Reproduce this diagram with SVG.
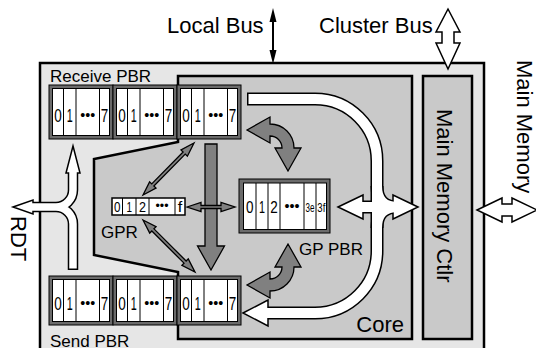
<svg xmlns="http://www.w3.org/2000/svg" width="536" height="348" viewBox="0 0 536 348">
<style>
text{font-family:"Liberation Sans",Arial,sans-serif;fill:#000}
.lbl{font-size:22px}
.sm{font-size:17px}
.dg{font-size:18px;text-anchor:middle}
.dg2{font-size:14px;text-anchor:middle}
.dg3{font-size:12px;text-anchor:middle}
.frame{fill:#6b6b6b;stroke:#000;stroke-width:1}
.cell{fill:#fff;stroke:#000;stroke-width:1}
.div{stroke:#000;stroke-width:1}
.gray{fill:#808080;stroke:#000;stroke-width:1.3;stroke-linejoin:miter}
.wb{fill:none;stroke:#000;stroke-width:13}
.ww{fill:none;stroke:#fff;stroke-width:10}
.rb{fill:none;stroke:#000;stroke-width:10.5}
.rw{fill:none;stroke:#fff;stroke-width:7.5}
.wh{fill:#fff;stroke:#000;stroke-width:1.5;stroke-linejoin:miter}
</style>

<g id="cluster">
<rect x="40" y="63" width="444" height="300" fill="#e6e6e6" stroke="#000" stroke-width="2.5"/>
</g>
<g id="core">
<polygon points="178,76 412,76 412,339 178,339 178,272 94,255 94,159 178,142" fill="#c9c9c9" stroke="#000" stroke-width="2.5"/>
<text class="lbl" x="404" y="332" text-anchor="end">Core</text>
</g>
<g id="memctl">
<rect x="423" y="76" width="49" height="263" fill="#c9c9c9" stroke="#000" stroke-width="2.5"/>
<text class="lbl" transform="translate(437,109) rotate(90)">Main Memory Ctlr</text>
</g>

<g id="recv-pbr">
<text class="sm" x="50" y="82">Receive PBR</text>
<g>
<rect class="frame" x="49" y="85" width="64" height="54"/>
<rect class="cell" x="52.5" y="88.5" width="57" height="47"/>
<path class="div" d="M63.5,88.5V135.5M76,88.5V135.5M99.5,88.5V135.5"/>
<text class="dg" x="58" y="122" textLength="7.5" lengthAdjust="spacingAndGlyphs">0</text>
<text class="dg" x="69.8" y="122" textLength="6" lengthAdjust="spacingAndGlyphs">1</text>
<text class="dg" x="87.8" y="120" style="font-size:14px" textLength="15" lengthAdjust="spacingAndGlyphs">•••</text>
<text class="dg" x="104.5" y="122" textLength="7.5" lengthAdjust="spacingAndGlyphs">7</text>
</g>
<g>
<rect class="frame" x="113" y="85" width="64" height="54"/>
<rect class="cell" x="116.5" y="88.5" width="57" height="47"/>
<path class="div" d="M127.5,88.5V135.5M140,88.5V135.5M163.5,88.5V135.5"/>
<text class="dg" x="122" y="122" textLength="7.5" lengthAdjust="spacingAndGlyphs">0</text>
<text class="dg" x="133.8" y="122" textLength="6" lengthAdjust="spacingAndGlyphs">1</text>
<text class="dg" x="151.8" y="120" style="font-size:14px" textLength="15" lengthAdjust="spacingAndGlyphs">•••</text>
<text class="dg" x="168.5" y="122" textLength="7.5" lengthAdjust="spacingAndGlyphs">7</text>
</g>
<g>
<rect class="frame" x="177" y="85" width="64" height="54"/>
<rect class="cell" x="180.5" y="88.5" width="57" height="47"/>
<path class="div" d="M191.5,88.5V135.5M204,88.5V135.5M227.5,88.5V135.5"/>
<text class="dg" x="186" y="122" textLength="7.5" lengthAdjust="spacingAndGlyphs">0</text>
<text class="dg" x="197.8" y="122" textLength="6" lengthAdjust="spacingAndGlyphs">1</text>
<text class="dg" x="215.8" y="120" style="font-size:14px" textLength="15" lengthAdjust="spacingAndGlyphs">•••</text>
<text class="dg" x="232.5" y="122" textLength="7.5" lengthAdjust="spacingAndGlyphs">7</text>
</g>
</g>

<g id="send-pbr">
<text class="sm" x="50" y="347">Send PBR</text>
<g>
<rect class="frame" x="49" y="276" width="64" height="49"/>
<rect class="cell" x="52.5" y="279.5" width="57" height="42"/>
<path class="div" d="M63.5,279.5V321.5M76,279.5V321.5M99.5,279.5V321.5"/>
<text class="dg" x="58" y="310" textLength="7.5" lengthAdjust="spacingAndGlyphs">0</text>
<text class="dg" x="69.8" y="310" textLength="6" lengthAdjust="spacingAndGlyphs">1</text>
<text class="dg" x="87.8" y="308" style="font-size:14px" textLength="15" lengthAdjust="spacingAndGlyphs">•••</text>
<text class="dg" x="104.5" y="310" textLength="7.5" lengthAdjust="spacingAndGlyphs">7</text>
</g>
<g>
<rect class="frame" x="113" y="276" width="64" height="49"/>
<rect class="cell" x="116.5" y="279.5" width="57" height="42"/>
<path class="div" d="M127.5,279.5V321.5M140,279.5V321.5M163.5,279.5V321.5"/>
<text class="dg" x="122" y="310" textLength="7.5" lengthAdjust="spacingAndGlyphs">0</text>
<text class="dg" x="133.8" y="310" textLength="6" lengthAdjust="spacingAndGlyphs">1</text>
<text class="dg" x="151.8" y="308" style="font-size:14px" textLength="15" lengthAdjust="spacingAndGlyphs">•••</text>
<text class="dg" x="168.5" y="310" textLength="7.5" lengthAdjust="spacingAndGlyphs">7</text>
</g>
<g>
<rect class="frame" x="177" y="276" width="64" height="49"/>
<rect class="cell" x="180.5" y="279.5" width="57" height="42"/>
<path class="div" d="M191.5,279.5V321.5M204,279.5V321.5M227.5,279.5V321.5"/>
<text class="dg" x="186" y="310" textLength="7.5" lengthAdjust="spacingAndGlyphs">0</text>
<text class="dg" x="197.8" y="310" textLength="6" lengthAdjust="spacingAndGlyphs">1</text>
<text class="dg" x="215.8" y="308" style="font-size:14px" textLength="15" lengthAdjust="spacingAndGlyphs">•••</text>
<text class="dg" x="232.5" y="310" textLength="7.5" lengthAdjust="spacingAndGlyphs">7</text>
</g>
</g>

<g id="gp-pbr">
<rect class="frame" x="239" y="179" width="91" height="54"/>
<rect class="cell" x="243.5" y="183" width="83" height="46.5"/>
<path class="div" d="M256,183V229.5M268,183V229.5M280,183V229.5M304,183V229.5M316,183V229.5"/>
<text class="dg" x="249.8" y="213" style="font-size:17px" textLength="7.5" lengthAdjust="spacingAndGlyphs">0</text>
<text class="dg" x="262" y="213" style="font-size:17px" textLength="6" lengthAdjust="spacingAndGlyphs">1</text>
<text class="dg" x="274" y="213" style="font-size:17px" textLength="7.5" lengthAdjust="spacingAndGlyphs">2</text>
<text class="dg" x="292" y="211" style="font-size:14px" textLength="15" lengthAdjust="spacingAndGlyphs">•••</text>
<text class="dg3" x="310" y="212" textLength="9" lengthAdjust="spacingAndGlyphs">3e</text>
<text class="dg3" x="321.3" y="212" textLength="8" lengthAdjust="spacingAndGlyphs">3f</text>
<text class="sm" x="299" y="255">GP PBR</text>
</g>

<g id="gpr">
<rect x="112" y="198" width="73" height="17" fill="#fff" stroke="#000" stroke-width="1.5"/>
<path class="div" d="M122.5,198V215M136,198V215M149,198V215M175,198V215"/>
<text class="dg2" x="117.3" y="212" textLength="6.5" lengthAdjust="spacingAndGlyphs">0</text>
<text class="dg2" x="129.3" y="212" textLength="5.5" lengthAdjust="spacingAndGlyphs">1</text>
<text class="dg2" x="142.5" y="212" textLength="7" lengthAdjust="spacingAndGlyphs">2</text>
<text class="dg2" x="162" y="210" style="font-size:12px" textLength="13" lengthAdjust="spacingAndGlyphs">•••</text>
<text class="dg2" x="180" y="212" textLength="4.5" lengthAdjust="spacingAndGlyphs">f</text>
<text class="sm" x="101" y="238">GPR</text>
</g>

<g id="labels">
<text class="lbl" x="167" y="33">Local Bus</text>
<text class="lbl" x="319" y="33">Cluster Bus</text>
<text class="lbl" transform="translate(517,60) rotate(90)">Main Memory</text>
<text class="lbl" transform="translate(11,216) rotate(90)">RDT</text>
</g>

<g id="connectors">
<line x1="273" y1="18" x2="273" y2="54" stroke="#000" stroke-width="2"/>
<polygon points="273,8 276.5,22 269.5,22" fill="#000"/>
<polygon points="273,64 276.5,50 269.5,50" fill="#000"/>
<polygon class="wh" points="448,9 460,32 454,32 454,43 460,43 448,69 436,43 442,43 442,32 436,32"/>
<polygon class="wh" points="477,210 502,198 502,204 512,204 512,198 537,210 512,222 512,216 502,216 502,222"/>
<polygon class="gray" points="205,144 217,144 217,246 224.5,246 211,270 197.5,246 205,246"/>
<path class="gray" d="M247,130 L270,117 L270,124 A24,24 0 0 1 294,148 L301,148 L288,171 L275,148 L282,148 A12,12 0 0 0 270,136 L270,143 Z"/>
<path class="gray" d="M247,285 L270,298 L270,291 A24,24 0 0 0 294,267 L301,267 L288,244 L275,267 L282,267 A12,12 0 0 1 270,279 L270,272 Z"/>
<polygon class="gray" transform="translate(143,195) rotate(-45.55)" points="0,0 14,-4.5 14,-1.5 58.8,-1.5 58.8,-4.5 72.8,0 58.8,4.5 58.8,1.5 14,1.5 14,4.5"/>
<polygon class="gray" transform="translate(143,220) rotate(45)" points="0,0 14,-4.5 14,-1.5 59.5,-1.5 59.5,-4.5 73.5,0 59.5,4.5 59.5,1.5 14,1.5 14,4.5"/>
<polygon class="gray" transform="translate(187,207)" points="0,0 14,-4.5 14,-1.5 34,-1.5 34,-4.5 48,0 34,4.5 34,1.5 14,1.5 14,4.5"/>
<path class="wb" d="M247,99 H315 A62,62 0 0 1 377,161 V251 A62,62 0 0 1 315,313 H266"/>
<path class="wb" d="M361,207 H395 M377,186 Q377,207 398,207 M377,228 Q377,207 398,207"/>
<polygon class="wh" points="243,313 268,300 268,326"/>
<polygon class="wh" points="338,207 363,195 363,219"/>
<polygon class="wh" points="418,207 393,195 393,219"/>
<path class="ww" d="M248.5,99 H315 A62,62 0 0 1 377,161 V251 A62,62 0 0 1 315,313 H266"/>
<path class="ww" d="M361,207 H395 M377,186 Q377,207 398,207 M377,228 Q377,207 398,207"/>
<path class="rb" d="M73,171 V190 A17,17 0 0 1 56,207 H31 M73,270 V224 A17,17 0 0 0 56,207"/>
<polygon class="wh" points="73,146 80,173 66,173"/>
<polygon class="wh" points="13,207 33,200 33,214"/>
<path class="rw" d="M73,171 V190 A17,17 0 0 1 56,207 H31 M73,268.5 V224 A17,17 0 0 0 56,207"/>
</g>
</svg>
